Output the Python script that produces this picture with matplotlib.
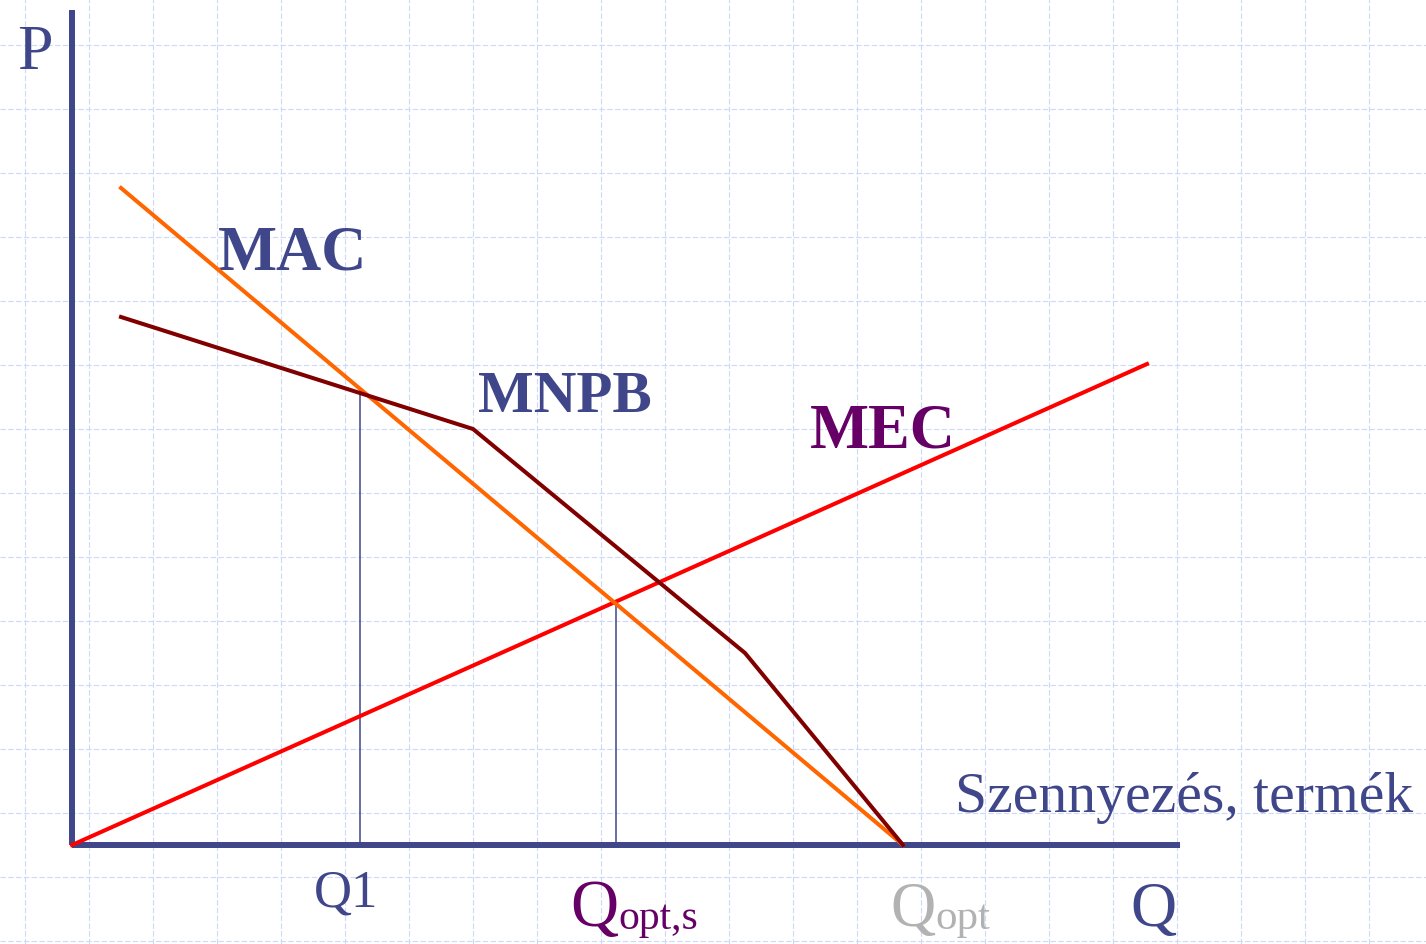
import numpy as np
import matplotlib
matplotlib.use("Agg")
import matplotlib.pyplot as plt

# curve data (quantity, price), origin at the axis corner
mac_q = [0.49, 8.31]
mac_p = [6.57, 0.0]
mnpb_q = [0.49, 4.01, 6.73, 8.31]
mnpb_p = [5.28, 4.16, 1.92, 0.0]
mec_q = [0.0, 10.75]
mec_p = [0.0, 4.81]
q1 = 2.88
q_opt_s = 5.44

navy = "#3f4689"
purple = "#660066"
serif = ["Liberation Serif", "DejaVu Serif"]

fig = plt.figure(figsize=(14.26, 9.45), dpi=100)
ax = fig.add_axes([0, 0, 1, 1])
ax.set_xlim(-0.72, 13.54)
ax.set_ylim(-0.99, 8.46)
ax.axis("off")

# background grid (dashed, light blue)
for gx in np.arange(-0.47, 13.6, 0.64):
    ax.axvline(gx, color="#cbd9fc", lw=0.8, ls=(0, (5, 2)), zorder=0)
for gy in np.arange(8.0, -1.0, -0.64):
    ax.axhline(gy, color="#cbd9fc", lw=0.8, ls=(0, (5, 2)), zorder=0)

# axes
ax.plot([0, 0], [0, 8.35], color=navy, lw=4.3, solid_capstyle="butt", zorder=3)
ax.plot([0, 11.08], [0, 0], color=navy, lw=4.3, solid_capstyle="butt", zorder=3)

# curves
ax.plot(mec_q, mec_p, color="#ff0000", lw=2.9, zorder=4)
ax.plot(mac_q, mac_p, color="#ff6600", lw=2.9, zorder=4)
ax.plot(mnpb_q, mnpb_p, color="#800000", lw=2.9, zorder=5)

# drop lines to the axis
for q in [q1, q_opt_s]:
    h = np.interp(q, mac_q, mac_p)
    ax.plot([q, q], [0, h], color=navy, lw=1.1, zorder=2)

# labels
ax.text(-0.37, 7.77, "P", color=navy, fontsize=46, family=serif, ha="center", va="baseline")
ax.text(1.46, 5.76, "MAC", color=navy, fontsize=45, family=serif, weight="bold", va="baseline")
ax.text(4.06, 4.34, "MNPB", color=navy, fontsize=42.5, family=serif, weight="bold", va="baseline")
ax.text(7.38, 3.99, "MEC", color=purple, fontsize=45, family=serif, weight="bold", va="baseline")
ax.text(8.83, 0.34, "Szennyezés, termék", color=navy, fontsize=41.5, family=serif, va="baseline")

ax.text(2.42, -0.61, "Q1", color=navy, fontsize=38, family=serif, va="baseline")
ax.text(4.98, -0.80, "Q", color=purple, fontsize=48, family=serif, va="baseline")
ax.text(5.46, -0.83, "opt,s", color=purple, fontsize=30, family=serif, va="baseline")
ax.text(8.18, -0.80, "Q", color="#b2b2b2", fontsize=45, family=serif, va="baseline")
ax.text(8.63, -0.83, "opt", color="#b2b2b2", fontsize=31, family=serif, va="baseline")
ax.text(10.58, -0.80, "Q", color=navy, fontsize=46, family=serif, va="baseline")

fig.savefig("out.png", dpi=100)
